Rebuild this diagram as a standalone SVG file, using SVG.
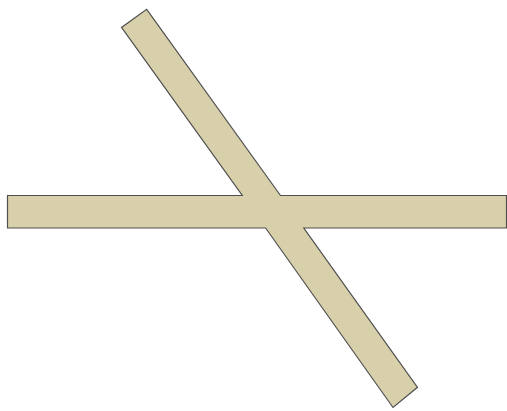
<svg xmlns="http://www.w3.org/2000/svg" width="507" height="411" viewBox="0 0 507 411">
<style>
.bar{fill:#d8cfab;stroke:#505050;stroke-width:1.2;stroke-linejoin:miter}
</style>
<rect width="507" height="411" fill="#ffffff"/>
<g id="cross">
<path class="bar" d="M146.7,9.3 L280.5,195.5 L506.5,195.5 L506.5,228 L303.8,228 L417.5,387.3 L393,407.5 L265.6,228 L7.5,228 L7.5,195.5 L242.3,195.5 L121.5,27.4 Z"/>
</g>
</svg>
